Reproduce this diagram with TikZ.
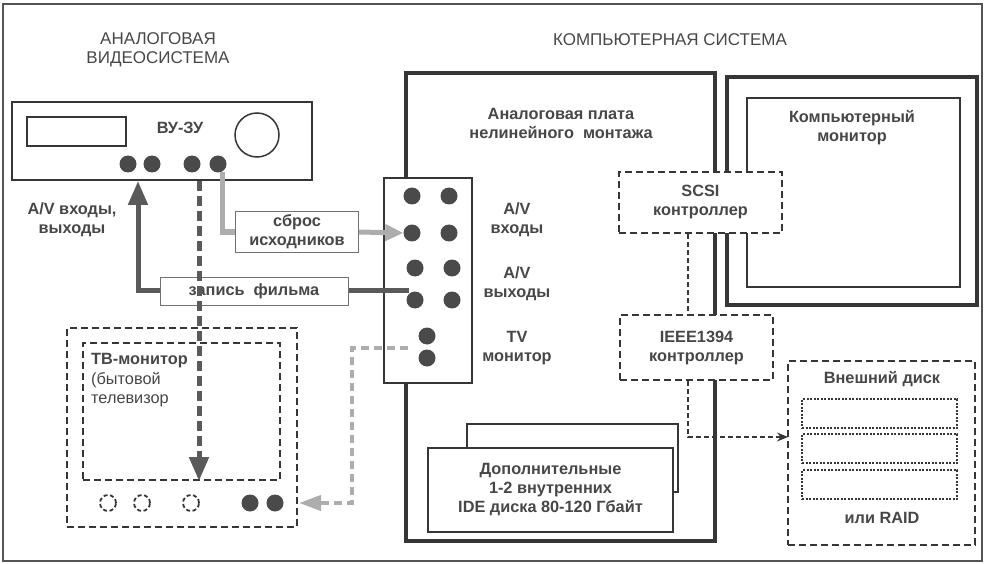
\documentclass[tikz,border=0pt]{standalone}
\usepackage{fontspec}
\setmainfont{Liberation Sans}
\usetikzlibrary{arrows.meta,positioning,calc}

\definecolor{ink}{HTML}{363636}
\definecolor{txt}{HTML}{474747}
\definecolor{mid}{HTML}{5A5A5A}
\definecolor{lite}{HTML}{ADADAD}

\begin{document}
\begin{tikzpicture}[
    x=1pt, y=-1pt,
    node font=\fontsize{16.3}{19}\selectfont\bfseries,
    every node/.style={text=txt},
    jack/.style={circle, fill=ink!90, inner sep=0pt, minimum size=17pt},
    jack open/.style={circle, draw=ink, dash pattern=on 4pt off 2.5pt, line width=1.8pt, inner sep=0pt, minimum size=16pt},
    solid box/.style={draw=ink, line width=2pt, fill=white, inner sep=0pt},
    heavy box/.style={draw=ink, line width=3.2pt, fill=white, inner sep=0pt},
    dash box/.style={draw=ink, line width=2pt, dash pattern=on 7pt off 4pt, fill=white, inner sep=0pt},
    slot box/.style={draw=ink, line width=1.3pt, dash pattern=on 2pt off 1.5pt, inner sep=0pt, minimum width=155pt, minimum height=29pt},
    tag box/.style={draw=ink!70, line width=1pt, fill=white, align=center},
    label/.style={align=center},
    heading/.style={align=center, font=\fontsize{17}{19}\selectfont\mdseries},
    rec line/.style={mid, line width=5pt, -{Triangle[length=24pt,width=19pt]}},
    play line/.style={mid, line width=5pt, dash pattern=on 10pt off 5pt, -{Triangle[length=24pt,width=19pt]}},
    src line/.style={lite, line width=5pt},
    tv line/.style={lite, line width=4pt, dash pattern=on 8pt off 5pt, -{Triangle[length=22pt,width=15pt]}},
    bus line/.style={ink, line width=1.6pt, dash pattern=on 5pt off 3pt},
]

% outer frame and bounding box
\useasboundingbox (0,0) rectangle (985,564);
\draw[ink!85, line width=1.6pt] (3,4) rectangle (982,561);

% headings
\node[heading] (anhead) at (158,50) {АНАЛОГОВАЯ\\ВИДЕОСИСТЕМА};
\node[heading] (pchead) at (670,40) {КОМПЬЮТЕРНАЯ СИСТЕМА};

% === COMPUTER SYSTEM ===
\node[heavy box, minimum width=309pt, minimum height=468pt] (pc) at (560.5,307) {};
\node[label] (boardname) at (561,123) {Аналоговая плата\\нелинейного~~монтажа};

% computer monitor
\node[heavy box, minimum width=250pt, minimum height=228pt] (mon) at (852,191) {};
\node[draw=ink, line width=1.5pt, inner sep=0pt, minimum width=213pt, minimum height=189pt] (monscr) at (853.5,192.5) {};
\node[label] (monname) at (852,128) {Компьютерный\\монитор};

% controllers
\node[dash box, minimum width=163pt, minimum height=61pt, align=center] (scsi) at (700.5,202.5) {SCSI\\контроллер};
\node[dash box, minimum width=153pt, minimum height=65pt, align=center] (ieee) at (696.5,347.5) {IEEE1394\\контроллер};

% internal disks
\node[solid box, minimum width=211pt, minimum height=68pt] (hddback) at (572.5,458) {};
\node[solid box, minimum width=245pt, minimum height=84pt, align=center] (hdd) at (550.5,490)
    {Дополнительные\\1-2 внутренних\\IDE диска 80-120 Гбайт};

% external disk
\node[dash box, minimum width=187pt, minimum height=184pt] (ext) at (881.5,453) {};
\node[label] (extname) at (882,379) {Внешний диск};
\foreach \i/\y in {1/413.5, 2/448.5, 3/484.5}
    \node[slot box] (slot\i) at (879.5,\y) {};
\node[label] (raid) at (882,518) {или RAID};

% board connector panel
\node[solid box, line width=2.6pt, minimum width=88pt, minimum height=205pt] (board) at (428,280.5) {};
\foreach \i/\x/\y in {1/412/196, 2/449/196, 3/412/233, 4/449/233,
                      5/415/268, 6/452/268, 7/415/300, 8/452/300,
                      9/427/336, 10/427/358}
    \node[jack] (p\i) at (\x,\y) {};
\node[label] (avin) at (517,220) {A/V\\входы};
\node[label] (avout) at (517,284) {A/V\\выходы};
\node[label] (tvport) at (517,348) {TV\\монитор};

% === ANALOG VIDEO SYSTEM ===
% VCR
\node[solid box, minimum width=300pt, minimum height=78pt] (vcr) at (162,141) {};
\node[draw=ink, line width=1.5pt, inner sep=0pt, minimum width=99pt, minimum height=29pt] (vcrwin) at (76.5,131.5) {};
\node[circle, draw=ink, line width=1.5pt, inner sep=0pt, minimum size=44pt] (knob) at (257,135) {};
\node (vcrname) at (180,128) {ВУ-ЗУ};
\foreach \i/\x in {1/128, 2/152, 3/192, 4/218}
    \node[jack] (v\i) at (\x,164) {};
\node[label] (avio) at (72,220) {A/V входы,\\выходы};

% TV set
\node[dash box, minimum width=230pt, minimum height=199pt] (tv) at (182,427.5) {};
\node[dash box, minimum width=197pt, minimum height=137pt] (tvscr) at (181.5,411.5) {};
\node[anchor=north west, align=left, inner sep=0pt] (tvname) at (91,353)
    {ТВ-монитор\\[1pt]\mdseries(бытовой\\\mdseries телевизор};
\foreach \i/\x in {1/108, 2/142, 3/191}
    \node[jack open] (t\i) at (\x,503) {};
\foreach \i/\x in {4/250, 5/275}
    \node[jack] (t\i) at (\x,503) {};

% === CONNECTIONS ===
\coordinate (recsrc) at (409,290);
\coordinate (recdst) at (138,181);
\coordinate (playsrc) at (199,181);
\coordinate (srcsrc) at (222,172);
\coordinate (tvsrc) at (408,348);
\coordinate (tvbend) at (352,348);
\coordinate (tvdst) at (299,503);
\coordinate (bus) at (688,0);
\coordinate (extin) at (788,437);

% film recording
\draw[rec line] (recsrc) -| (recdst);
\node[tag box, minimum width=188pt, minimum height=28pt, inner sep=0pt] (rec) at (254,291) {запись~~фильма};

% playback to TV
\draw[play line] (playsrc) -- (playsrc |- tvscr.south);

% source dump
\draw[src line] (srcsrc) |- (297,232);
\node[tag box, minimum width=123pt, minimum height=41pt, inner sep=0pt] (sbros) at (297,232) {сброс\\исходников};
\draw[src line, -{Triangle[length=18pt,width=16pt]}] (sbros.east) -- (p3.west);

% TV monitor out
\draw[tv line] (tvsrc) -- (tvbend) |- (tvdst);

% controllers and external disk
\draw[bus line] (scsi.south -| bus) -- (ieee.north -| bus);
\draw[bus line, -{Stealth[length=11pt,width=9pt]}] (ieee.south -| bus) |- (extin);

\end{tikzpicture}
\end{document}
